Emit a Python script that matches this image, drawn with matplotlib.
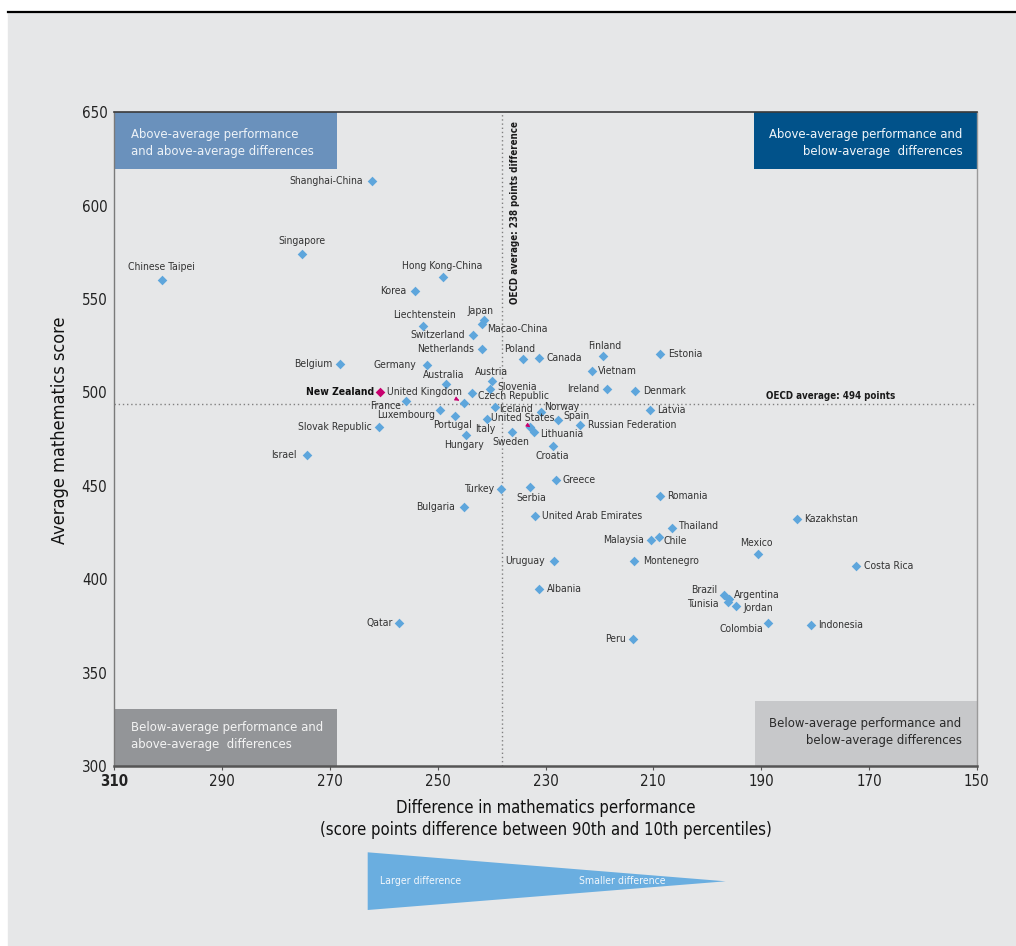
import matplotlib
matplotlib.use("Agg")
import matplotlib.pyplot as plt
import matplotlib.transforms as mtransforms
from matplotlib import font_manager
from matplotlib.lines import Line2D
from matplotlib.patches import Polygon, Rectangle

# ── Font: a narrow sans if one is installed ──────────────────────────────────
_ttf = font_manager.fontManager.ttflist
_names = {f.name for f in _ttf}
_cond = [f for f in _ttf if "dejavusanscondensed" in f.fname.lower().replace("-", "").replace("_", "")]
if "Liberation Sans Narrow" in _names:
    FONT, STRETCH, K = "Liberation Sans Narrow", "normal", 1.0
elif _cond:
    FONT, STRETCH, K = _cond[0].name, "condensed", 1.0
else:
    FONT, STRETCH, K = "Liberation Sans", "normal", 0.95
plt.rcParams["font.family"] = [FONT, "DejaVu Sans"]
plt.rcParams["font.stretch"] = STRETCH

# ── Data ─────────────────────────────────────────────────────────────────────
countries = [
    "Shanghai-China", "Singapore", "Chinese Taipei", "Hong Kong-China", "Korea",
    "Liechtenstein", "Japan", "Macao-China", "Switzerland", "Netherlands",
    "Belgium", "Germany", "Australia", "Austria", "Slovenia", "New Zealand",
    "Czech Republic", "United Kingdom", "France", "Iceland", "Luxembourg",
    "Portugal", "Italy", "United States", "Slovak Republic", "Hungary", "Sweden",
    "Israel", "Poland", "Canada", "Finland", "Estonia", "Vietnam", "Ireland",
    "Denmark", "Latvia", "Norway", "Spain", "Russian Federation", "Lithuania",
    "Croatia", "Greece", "Turkey", "Serbia", "Romania", "Bulgaria",
    "United Arab Emirates", "Kazakhstan", "Thailand", "Chile", "Malaysia",
    "Mexico", "Uruguay", "Montenegro", "Costa Rica", "Albania", "Brazil",
    "Argentina", "Tunisia", "Jordan", "Colombia", "Indonesia", "Peru", "Qatar",
]
diff = [
    262.2, 275.1, 301.2, 249.0, 254.2,
    252.7, 241.5, 241.8, 243.4, 241.7,
    268.1, 251.9, 248.5, 240.0, 240.3, 260.7,
    243.6, 245.1, 255.8, 239.4, 249.6,
    246.7, 240.9, 232.8, 260.9, 244.7, 236.2,
    274.3, 234.2, 231.2, 219.3, 208.8, 221.4, 218.6,
    213.4, 210.6, 230.9, 227.7, 223.6, 232.2,
    228.7, 228.1, 238.2, 232.8, 208.7, 245.2,
    232.0, 183.3, 206.5, 209.0, 210.4,
    190.6, 228.4, 213.5, 172.4, 231.2, 196.8,
    195.9, 196.2, 194.7, 188.7, 180.8, 213.7, 257.1,
]
score = [
    613.4, 574.0, 560.2, 561.6, 554.5,
    535.6, 538.8, 536.6, 531.0, 523.1,
    515.4, 514.6, 504.7, 506.0, 501.9, 500.1,
    499.5, 494.2, 495.4, 492.3, 490.5,
    487.6, 485.7, 481.4, 481.7, 477.1, 478.7,
    466.7, 518.1, 518.6, 519.3, 520.6, 511.4, 501.7,
    500.6, 490.7, 489.8, 485.3, 482.4, 478.7,
    471.4, 453.1, 448.4, 449.3, 444.8, 438.7,
    434.0, 432.2, 427.3, 422.6, 420.9,
    413.5, 409.7, 409.7, 407.1, 394.6, 391.7,
    389.2, 387.9, 385.7, 376.7, 375.3, 368.1, 376.6,
]
HIGHLIGHT = "New Zealand"
OECD_DIFF = 238
OECD_SCORE = 494
XTICKS = [310, 290, 270, 250, 230, 210, 190, 170, 150]
YTICKS = [300, 350, 400, 450, 500, 550, 600, 650]

# label placement: (dx px, dy px, ha)
LABELS = {
    "Shanghai-China": (-9, 0, "right"), "Singapore": (0, 13, "center"),
    "Chinese Taipei": (0, 13, "center"), "Hong Kong-China": (-1, 11, "center"),
    "Korea": (-9, 0, "right"), "Liechtenstein": (1, 11, "center"),
    "Japan": (-3, 9, "center"), "Macao-China": (5, -5, "left"),
    "Switzerland": (-8, 0, "right"), "Netherlands": (-8, 0, "right"),
    "Belgium": (-8, 0, "right"), "Germany": (-11, 0, "right"),
    "Australia": (-2, 9, "center"), "Austria": (0, 9, "center"),
    "Slovenia": (7, 2, "left"), "New Zealand": (-6, 0, "right"),
    "Czech Republic": (6, -3, "left"), "United Kingdom": (-77, 11, "left"),
    "France": (-5, -5, "right"), "Iceland": (4, -2, "left"),
    "Luxembourg": (-5, -5, "right"), "Portugal": (-3, -9, "center"),
    "Italy": (-1, -10, "center"), "United States": (-39, 9, "left"),
    "Slovak Republic": (-7, 0, "right"), "Hungary": (-2, -10, "center"),
    "Sweden": (-1, -10, "center"), "Israel": (-10, 0, "right"),
    "Poland": (-3, 10, "center"), "Canada": (7, 0, "left"),
    "Finland": (2, 10, "center"), "Estonia": (8, 0, "left"),
    "Vietnam": (6, 0, "left"), "Ireland": (-8, 0, "right"),
    "Denmark": (8, 0, "left"), "Latvia": (7, 0, "left"),
    "Norway": (3, 5, "left"), "Spain": (5, 4, "left"),
    "Russian Federation": (8, 0, "left"), "Lithuania": (6, -2, "left"),
    "Croatia": (0, -10, "center"), "Greece": (7, 0, "left"),
    "Turkey": (-7, 0, "right"), "Serbia": (1, -11, "center"),
    "Romania": (7, 0, "left"), "Bulgaria": (-9, 0, "right"),
    "United Arab Emirates": (7, 0, "left"), "Kazakhstan": (7, 0, "left"),
    "Thailand": (6, 2, "left"), "Chile": (5, -4, "left"),
    "Malaysia": (-7, 0, "right"), "Mexico": (-1, 11, "center"),
    "Uruguay": (-9, 0, "right"), "Montenegro": (9, 0, "left"),
    "Costa Rica": (8, 0, "left"), "Albania": (8, 0, "left"),
    "Brazil": (-7, 5, "right"), "Argentina": (5, 4, "left"),
    "Tunisia": (-9, -2, "right"), "Jordan": (8, -2, "left"),
    "Colombia": (-5, -6, "right"), "Indonesia": (7, 0, "left"),
    "Peru": (-7, 0, "right"), "Qatar": (-7, 0, "right"),
}
ARROWED = {"United Kingdom": (0.88, 0.0), "United States": (0.52, 0.0)}

# ── Colours ──────────────────────────────────────────────────────────────────
C = dict(
    bg="#e6e7e8", point="#5ea6dc", hl="#c8006e", text="#333333",
    q_tl="#6a91bc", q_tr="#01528a", q_bl="#939598", q_br="#c7c8ca",
    grid="#808080", tri="#6aaee0",
)

W, H = 1016, 946
fx = lambda px: px / W
fy = lambda py: 1 - py / H

fig = plt.figure(figsize=(W / 100, H / 100), dpi=100, facecolor="white")
fig.patches.append(Rectangle((fx(8), 0), 1 - fx(8), fy(12.5), transform=fig.transFigure,
                             color=C["bg"], zorder=-10))
fig.add_artist(Line2D([fx(8), 1], [fy(12.5)] * 2, color="black", lw=1.6))

ax_l, ax_r, ax_t, ax_b = 114.3, 976.7, 112.3, 766
ax = fig.add_axes([fx(ax_l), fy(ax_b), (ax_r - ax_l) / W, (ax_b - ax_t) / H])
ax.set_facecolor(C["bg"])
ax.set_xlim(310, 150)
ax.set_ylim(300, 650)

ax.set_xticks(XTICKS)
ax.set_xticklabels([str(t) for t in XTICKS])
ax.set_yticks(YTICKS)
ax.set_yticklabels([str(t) for t in YTICKS])
ax.tick_params(axis="x", length=3, width=0.8, color="#555555", labelsize=10.8 * K,
               labelcolor="#222222", pad=3)
ax.tick_params(axis="y", length=0, labelsize=10.8 * K, labelcolor="#222222", pad=5)
ax.get_xticklabels()[0].set_fontweight("bold")

for side, col, lw in [("top", "#3a3a3a", 1.2), ("left", "#7a7a7a", 1.0),
                      ("right", "#9a9a9a", 1.0), ("bottom", "#555555", 1.8)]:
    ax.spines[side].set_color(col)
    ax.spines[side].set_linewidth(lw)

# quadrant boxes
QUAD = [
    ((0, 0.9137), 0.258, 0.0863, C["q_tl"], "Above-average performance\nand above-average differences",
     0.0194, 0.9526, "left", "#eef3f8"),
    ((0.7418, 0.9137), 0.2582, 0.0863, C["q_tr"], "Above-average performance and\nbelow-average  differences",
     0.9833, 0.9526, "right", "#f2f6fa"),
    ((0, 0), 0.258, 0.0872, C["q_bl"], "Below-average performance and\nabove-average  differences",
     0.0193, 0.0454, "left", "#f4f4f4"),
    ((0.7427, 0), 0.2573, 0.0994, C["q_br"], "Below-average performance and\nbelow-average differences",
     0.9823, 0.0516, "right", "#2a2a2a"),
]
for xy, w, h, col, txt, tx, ty, ha, tcol in QUAD:
    ax.add_patch(Rectangle(xy, w, h, transform=ax.transAxes, color=col, zorder=1, lw=0))
    ax.text(tx, ty, txt, transform=ax.transAxes, ha=ha, va="center", fontsize=9.4 * K,
            color=tcol, linespacing=1.4, zorder=2, multialignment=ha)

# OECD averages
ax.axvline(OECD_DIFF, color=C["grid"], lw=1, ls=(0, (1, 2)), zorder=1.5)
ax.axhline(OECD_SCORE, color=C["grid"], lw=1, ls=(0, (1, 2)), zorder=1.5)
ax.annotate(f"OECD average: {OECD_DIFF} points difference", (OECD_DIFF, 650),
            xytext=(13, -9), textcoords="offset pixels", rotation=90,
            ha="center", va="top", fontsize=7.0 * K, fontweight="bold", color="#1a1a1a")
trans = mtransforms.blended_transform_factory(ax.transAxes, ax.transData)
ax.annotate(f"OECD average: {OECD_SCORE} points", (0.905, OECD_SCORE), xycoords=trans,
            xytext=(0, 8), textcoords="offset pixels", ha="right", va="center",
            fontsize=7.0 * K, fontweight="bold", color="#1a1a1a")

# points + labels
for name, x, y in zip(countries, diff, score):
    hl = name == HIGHLIGHT
    ax.scatter(x, y, marker="D", s=24, color=C["hl"] if hl else C["point"],
               linewidths=0, zorder=4 if hl else 3)
    dx, dy, ha = LABELS[name]
    kw = dict(textcoords="offset pixels", ha=ha, va="center", fontsize=7.5 * K,
              color="#111111" if hl else C["text"],
              fontweight="bold" if hl else "normal", zorder=5)
    if name in ARROWED:
        kw["arrowprops"] = dict(arrowstyle="-|>,head_length=0.3,head_width=0.15",
                                color=C["hl"], lw=0.8, shrinkA=0, shrinkB=4,
                                relpos=ARROWED[name])
    ax.annotate(name, (x, y), xytext=(dx, dy), **kw)

# axis titles
fig.text(fx(60), fy(430), "Average mathematics score", rotation=90, ha="center",
         va="center", fontsize=13 * K, color="#111111")
fig.text(fx(545.5), fy(819),
         "Difference in mathematics performance\n(score points difference between 90th and 10th percentiles)",
         ha="center", va="center", fontsize=12 * K, color="#111111", linespacing=1.3)

# direction arrow
fig.patches.append(Polygon([(fx(367.7), fy(852.3)), (fx(367.7), fy(910)), (fx(725.7), fy(881.3))],
                           closed=True, transform=fig.transFigure, color=C["tri"], lw=0))
fig.text(fx(379.5), fy(881), "Larger difference", fontsize=7.6 * K, color="#f2f7fc", va="center")
fig.text(fx(578.7), fy(881), "Smaller difference", fontsize=7.6 * K, color="#f2f7fc", va="center")

fig.savefig("out.png", dpi=100, facecolor="white")
